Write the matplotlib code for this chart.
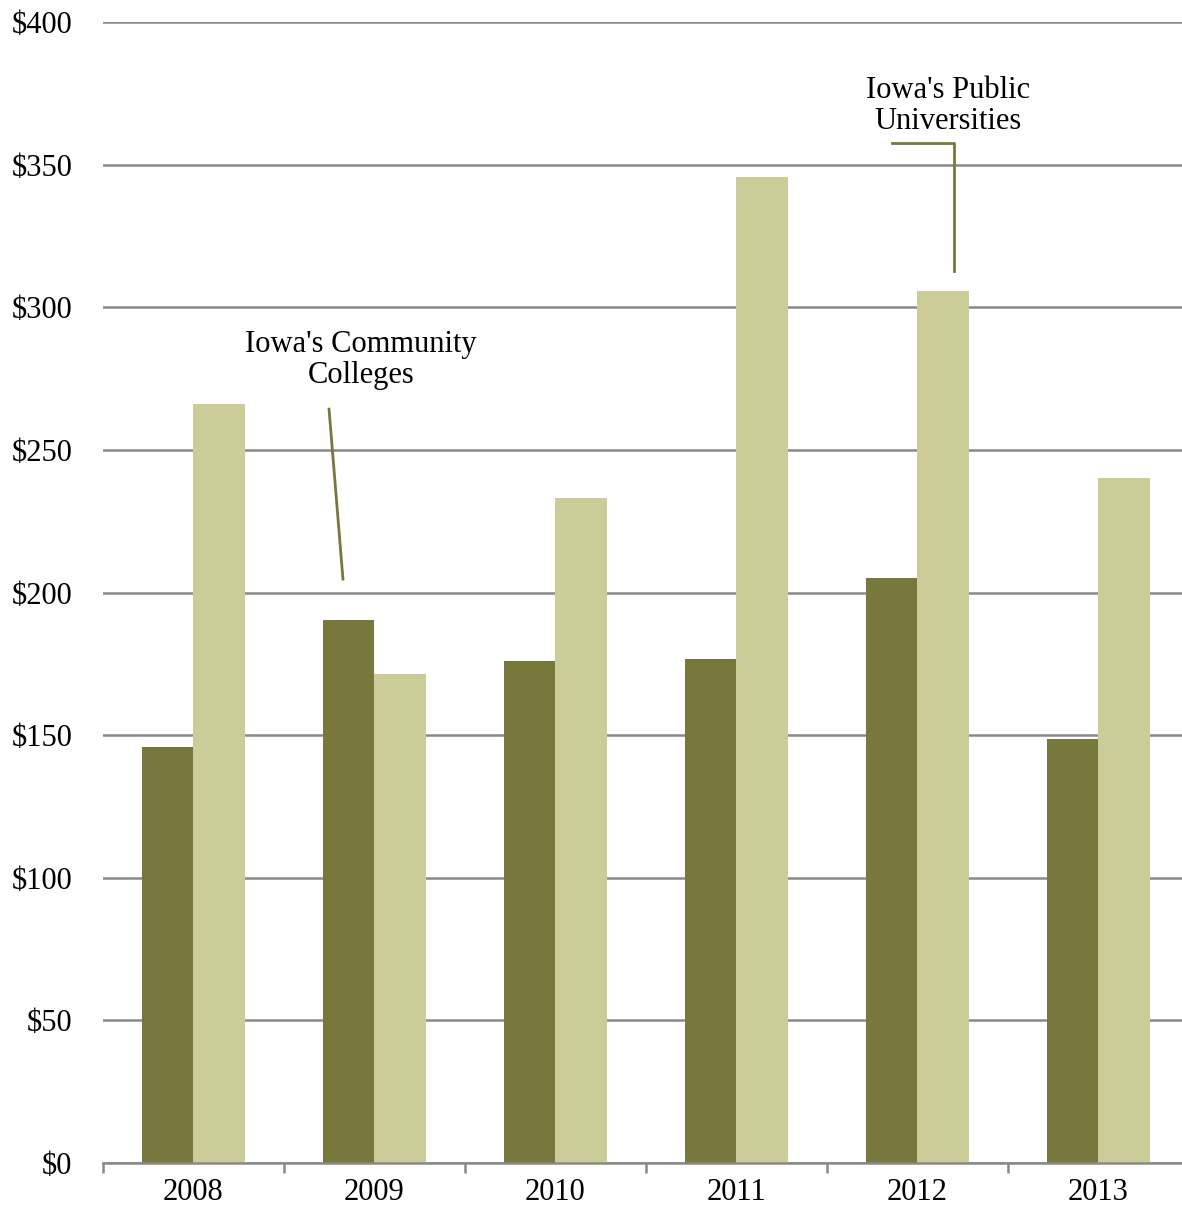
import matplotlib

matplotlib.use("Agg")
import matplotlib.pyplot as plt
import numpy as np

years = ["2008", "2009", "2010", "2011", "2012", "2013"]
community_colleges = [146, 190.5, 176, 176.8, 205, 148.6]
public_universities = [266, 171.5, 233.2, 345.8, 305.8, 240.2]
y_ticks = [0, 50, 100, 150, 200, 250, 300, 350, 400]
y_labels = ["$" + str(v) for v in y_ticks]

DARK = "#78783c"
LIGHT = "#cccc99"
GRID = "#898989"

plt.rcParams["font.family"] = ["Liberation Serif", "DejaVu Serif"]

fig = plt.figure(figsize=(11.82, 12.09), dpi=100)
# plot area runs slightly past the right edge of the picture, as in the original
ax = fig.add_axes([0.0871, 0.038, 0.9188, 0.9438])

x = np.arange(len(years))
w = 0.287
ax.bar(x - w / 2, community_colleges, width=w, color=DARK, zorder=3)
ax.bar(x + w / 2, public_universities, width=w, color=LIGHT, zorder=3)

ax.set_xlim(-0.5, len(years) - 0.5)
ax.set_ylim(0, 400)
ax.set_yticks(y_ticks)
ax.set_yticklabels(y_labels, fontsize=22)
ax.yaxis.grid(True, color=GRID, linewidth=1.8, zorder=0)
ax.tick_params(axis="y", length=0, pad=22)

# category labels centred, tick marks on category boundaries
ax.set_xticks(x)
ax.set_xticklabels(years, fontsize=22)
ax.set_xticks(np.arange(len(years) + 1) - 0.5, minor=True)
ax.tick_params(axis="x", which="major", length=0, pad=11)
ax.tick_params(axis="x", which="minor", length=7, width=1.8, color=GRID)

for s in ["top", "right", "left"]:
    ax.spines[s].set_visible(False)
ax.spines["bottom"].set_color(GRID)
ax.spines["bottom"].set_linewidth(1.8)
ax.spines["bottom"].set_zorder(4)

# callouts
ax.text(0.925, 281.5, "Iowa's Community\nColleges", ha="center", va="center",
        fontsize=22, linespacing=1.08)
ax.plot([0.749, 0.826], [264.3, 204.7], color=DARK, linewidth=2, zorder=4)

ax.text(4.168, 370.5, "Iowa's Public\nUniversities", ha="center", va="center",
        fontsize=22, linespacing=1.08)
ax.plot([3.859, 4.202, 4.202], [357.6, 357.6, 312.7], color=DARK,
        linewidth=2, zorder=4)

fig.savefig("out.png", dpi=100)
